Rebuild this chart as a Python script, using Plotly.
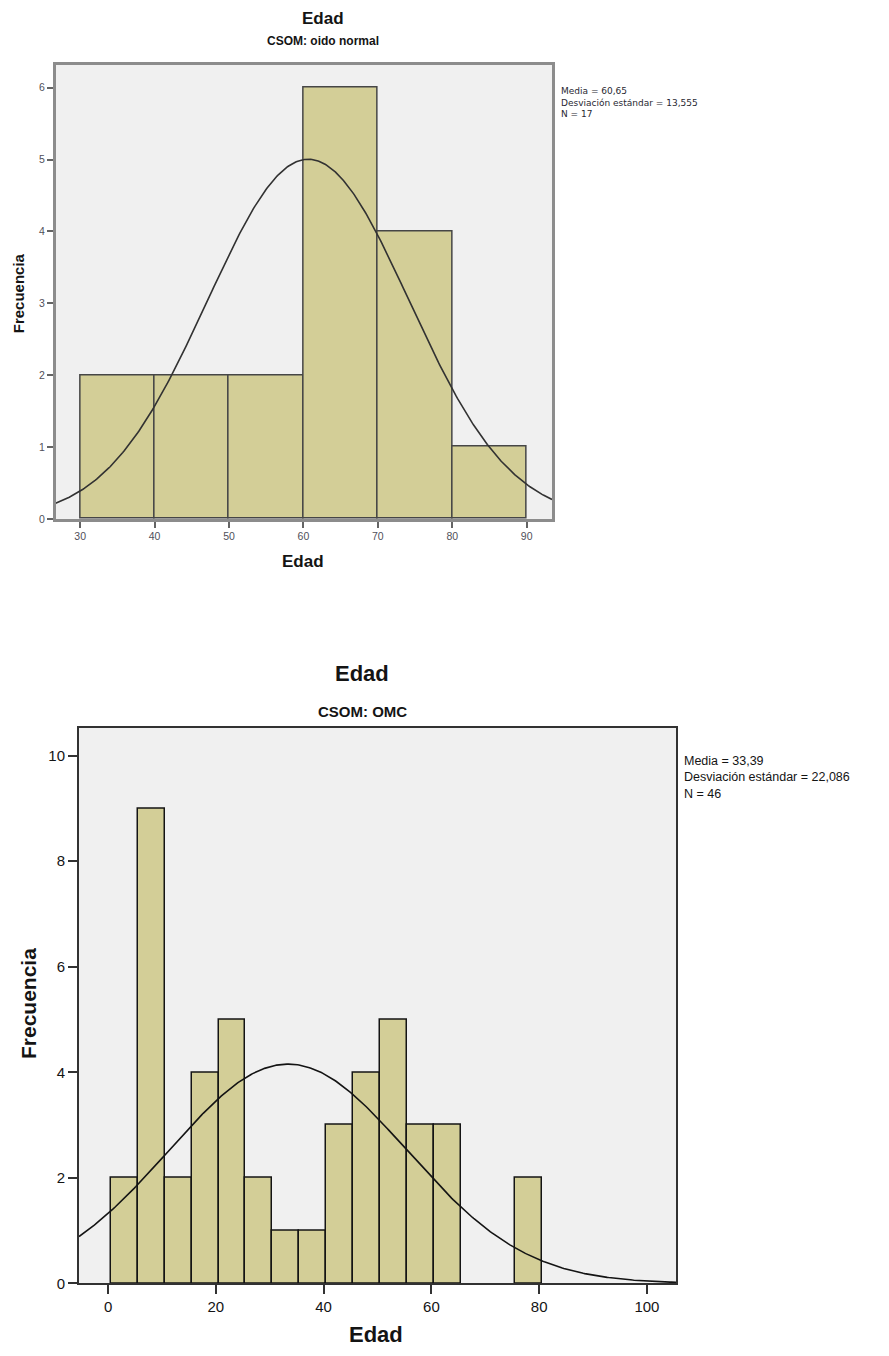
import numpy as np
import plotly.graph_objects as go

# ---------------- data ----------------
top_bin_left = [30, 40, 50, 60, 70, 80]
top_counts = [2, 2, 2, 6, 4, 1]
top_bin_width = 10
top_mean = 60.65
top_sd = 13.555
top_n = 17

bot_bin_left = [0.5, 5.5, 10.5, 15.5, 20.5, 25.5, 30.5, 35.5, 40.5, 45.5, 50.5, 55.5, 60.5, 65.5, 70.5, 75.5]
bot_counts = [2, 9, 2, 4, 5, 2, 1, 1, 3, 4, 5, 3, 3, 0, 0, 2]
bot_bin_width = 5
bot_mean = 33.39
bot_sd = 22.086
bot_n = 46

top_xticks = [30, 40, 50, 60, 70, 80, 90]
top_yticks = [0, 1, 2, 3, 4, 5, 6]
bot_xticks = [0, 20, 40, 60, 80, 100]
bot_yticks = [0, 2, 4, 6, 8, 10]

top_stats = ["Media = 60,65", "Desviación estándar = 13,555", "N = 17"]
bot_stats = ["Media = 33,39", "Desviación estándar = 22,086", "N = 46"]

# ---------------- figure ----------------
W, H = 889, 1356
BAR = "rgb(211,206,151)"
PBG = "rgb(240,240,240)"
FONT = "Liberation Sans, Arial, sans-serif"
BFONT = "Liberation Sans Narrow, Liberation Sans, Arial, sans-serif"

def px(x):
    return x / W

def py(y):
    return 1 - y / H

fig = go.Figure()

def add_hist(lefts, counts, width, xa, ya, lc):
    xs = [l + width / 2 for l, c in zip(lefts, counts) if c > 0]
    ys = [c for c in counts if c > 0]
    fig.add_trace(go.Bar(x=xs, y=ys, width=width, xaxis=xa, yaxis=ya,
                         marker=dict(color=BAR, line=dict(color=lc, width=1.5)),
                         showlegend=False, hoverinfo="x+y"))

def add_curve(mean, sd, n, width, x0, x1, xa, ya, lc):
    xs = np.linspace(x0, x1, 400)
    ys = n * width / (sd * np.sqrt(2 * np.pi)) * np.exp(-0.5 * ((xs - mean) / sd) ** 2)
    fig.add_trace(go.Scatter(x=xs, y=ys, mode="lines", xaxis=xa, yaxis=ya,
                             line=dict(color=lc, width=1.6), showlegend=False,
                             hoverinfo="skip"))

top_xr = [26.7, 93.4]
top_yr = [0, 6.32]
bot_xr = [-5.4, 105.4]
bot_yr = [0, 10.53]

add_hist(top_bin_left, top_counts, top_bin_width, "x", "y", "rgb(70,70,70)")
add_curve(top_mean, top_sd, top_n, top_bin_width, top_xr[0], top_xr[1], "x", "y", "rgb(50,50,50)")
add_hist(bot_bin_left, bot_counts, bot_bin_width, "x2", "y2", "rgb(20,20,20)")
add_curve(bot_mean, bot_sd, bot_n, bot_bin_width, bot_xr[0], bot_xr[1], "x2", "y2", "rgb(20,20,20)")

top_ax = dict(showline=True, mirror=True, linecolor="rgb(140,140,140)", linewidth=2.5,
              showgrid=False, zeroline=False, ticks="outside", ticklen=6,
              tickcolor="rgb(100,100,100)", tickwidth=1.5,
              tickfont=dict(family=FONT, size=10.5, color="rgb(80,80,90)"))
bot_ax = dict(showline=True, mirror=True, linecolor="rgb(50,50,50)", linewidth=2,
              showgrid=False, zeroline=False, ticks="outside", ticklen=9,
              tickcolor="rgb(50,50,50)", tickwidth=2,
              tickfont=dict(family=FONT, size=15, color="rgb(20,20,20)"))

fig.update_layout(
    width=W, height=H, margin=dict(l=0, r=0, t=0, b=0),
    paper_bgcolor="white", plot_bgcolor=PBG, bargap=0,
    xaxis=dict(domain=[px(55.6), px(552)], range=top_xr, tickvals=top_xticks,
               anchor="y", **top_ax),
    yaxis=dict(domain=[py(522), py(65)], range=top_yr, tickvals=top_yticks,
               anchor="x", **top_ax),
    xaxis2=dict(domain=[px(79), px(676)], range=bot_xr, tickvals=bot_xticks,
                anchor="y2", **bot_ax),
    yaxis2=dict(domain=[py(1291), py(732)], range=bot_yr, tickvals=bot_yticks,
                anchor="x2", **bot_ax),
)

ann = []
def text(x, y, s, size, bold=False, angle=0, xanchor="center", color="rgb(20,20,20)",
         family=None, yanchor="middle", align="center"):
    ann.append(dict(x=px(x), y=py(y), xref="paper", yref="paper", text=("<b>%s</b>" % s) if bold else s,
                    showarrow=False, xanchor=xanchor, yanchor=yanchor, textangle=angle, align=align,
                    font=dict(family=family or (BFONT if bold else FONT), size=size, color=color)))

# top chart texts
text(323, 19, "Edad", 17, bold=True)
text(323, 41, "CSOM: oido normal", 12, bold=True)
text(303, 565, "Edad", 17, bold=True)
text(18, 295, "Frecuencia", 15, bold=True, angle=-90)
text(559, 84, "<br>".join(top_stats), 9, xanchor="left", yanchor="top", align="left",
     color="rgb(40,40,50)", family="DejaVu Sans, Liberation Sans, sans-serif")

# bottom chart texts
text(362, 677, "Edad", 22, bold=True)
text(362, 716, "CSOM: OMC", 15, bold=True)
text(376, 1342, "Edad", 22, bold=True)
text(28, 1010, "Frecuencia", 21, bold=True, angle=-90)
text(682, 756, "<br>".join(bot_stats), 12.5, xanchor="left", yanchor="top", align="left")

fig.update_layout(annotations=ann)
fig.write_html("out.html")
